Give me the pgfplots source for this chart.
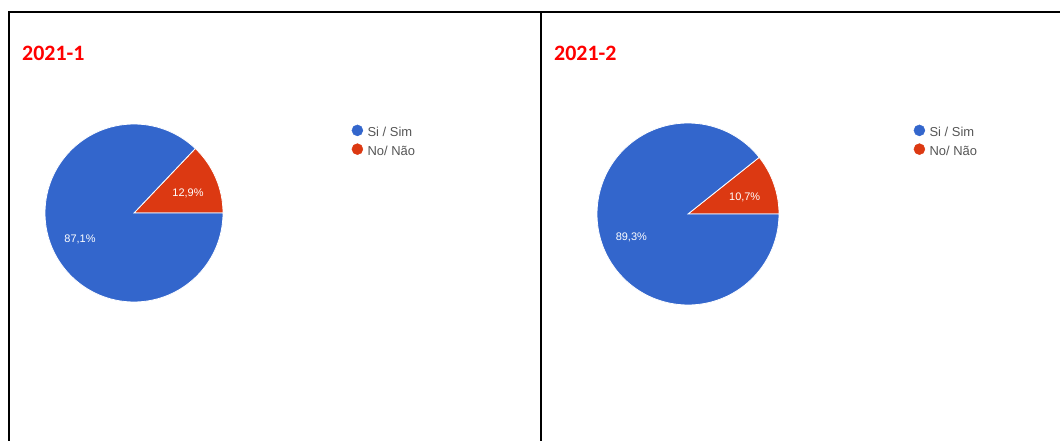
\documentclass[border=0pt]{standalone}
\usepackage{pgfplots}
\pgfplotsset{compat=1.18}
\usepackage{fontspec}
\setmainfont{Liberation Sans}
\newfontfamily\titlefont{Carlito}

\definecolor{pieblue}{HTML}{3366CC}
\definecolor{piered}{HTML}{DC3912}
\definecolor{legtext}{HTML}{555555}

% one pie slice: centre x, centre y, radius (bp), start %, end %, colour
\newcommand{\slice}[6]{%
  \fill[#6, draw=white, line width=0.8bp] (axis cs:#1,#2)
    -- ++({3.6*#4}:#3bp) arc[start angle={3.6*#4}, end angle={3.6*#5}, radius=#3bp] -- cycle;}
% percentage label at the middle of a slice
\newcommand{\slicelabel}[6]{%
  \node[white, font=\fontsize{11}{13}\selectfont, inner sep=0pt, yshift=-3.5bp]
    at ([shift={({1.8*(#4+#5)}:{0.66*#3*1bp})}]axis cs:#1,#2) {#6};}

\pgfplotsset{
  panel/.style={
    at={(0,0)}, anchor=south west, hide axis, clip=false,
    x=1bp, y=1bp, xmin=0, xmax=1060, ymin=0, ymax=441,
    legend cell align=left,
    legend image code/.code={\filldraw[##1] (0bp,1.4bp) circle[radius=5.5bp];},
    legend style={draw=none, fill=none, inner sep=0pt, row sep=5.3bp,
      font=\fontsize{13}{15}\selectfont, text=legtext,
      nodes={inner sep=0pt, text height=11bp, text depth=1.7bp},
      /tikz/every odd column/.append style={column sep=4.5bp}},
  },
}

\begin{document}
\begin{tikzpicture}
\path[use as bounding box] (0,0) rectangle (1060bp,441bp);

% 2021-1
\begin{axis}[panel, legend style={at={(axis cs:351.5,316.5)}, anchor=north west}]
  \slice{134}{228}{89}{0}{12.9}{piered}
  \slice{134}{228}{89}{12.9}{100}{pieblue}
  \slicelabel{134}{228}{89}{0}{12.9}{12,9\%}
  \slicelabel{134}{228}{89}{12.9}{100}{87,1\%}
  \addlegendimage{fill=pieblue, draw=pieblue}
  \addlegendentry{Si / Sim}
  \addlegendimage{fill=piered, draw=piered}
  \addlegendentry{No/ Não}
\end{axis}

% 2021-2
\begin{axis}[panel, legend style={at={(axis cs:913.5,316.5)}, anchor=north west}]
  \slice{688}{227}{91}{0}{10.7}{piered}
  \slice{688}{227}{91}{10.7}{100}{pieblue}
  \slicelabel{688}{227}{91}{0}{10.7}{10,7\%}
  \slicelabel{688}{227}{91}{10.7}{100}{89,3\%}
  \addlegendimage{fill=pieblue, draw=pieblue}
  \addlegendentry{Si / Sim}
  \addlegendimage{fill=piered, draw=piered}
  \addlegendentry{No/ Não}
\end{axis}

\node[anchor=base west, inner sep=0pt, text=red, font=\titlefont\bfseries\fontsize{22}{26}\selectfont]
  at (22bp,380bp) {2021-1};
\node[anchor=base west, inner sep=0pt, text=red, font=\titlefont\bfseries\fontsize{22}{26}\selectfont]
  at (554bp,380bp) {2021-2};

\draw[line width=2bp] (9bp,0) -- (9bp,429bp) -- (1060bp,429bp);
\draw[line width=2bp] (541bp,0) -- (541bp,429bp);
\end{tikzpicture}
\end{document}
